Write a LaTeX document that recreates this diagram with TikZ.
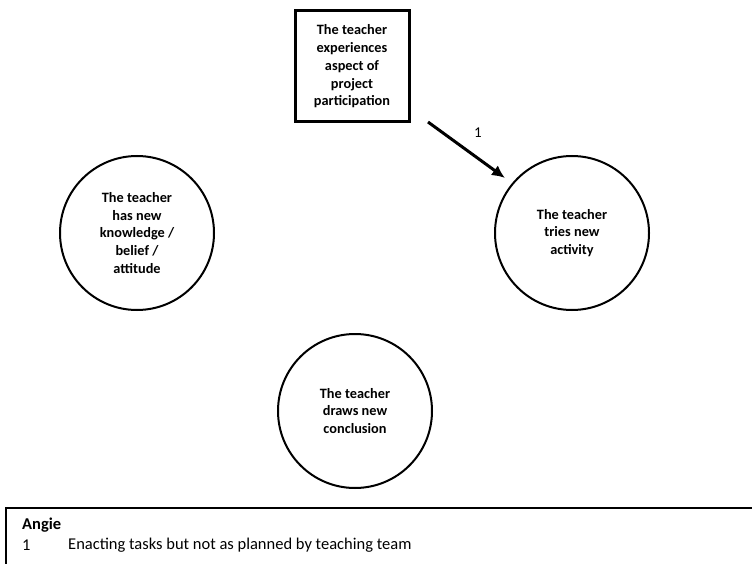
\documentclass[tikz,border=0pt]{standalone}
\usepackage{fontspec}
\setmainfont{Carlito}
\usetikzlibrary{arrows.meta}
\tikzset{
	stage/.style={circle,draw,line width=2pt,minimum size=154pt,inner sep=0pt,align=center,font=\bfseries\fontsize{14.3}{17.7}\selectfont},
	start/.style={rectangle,draw,line width=3pt,minimum width=114pt,minimum height=111pt,inner sep=0pt,align=center,font=\bfseries\fontsize{14.3}{17.7}\selectfont},
	legend/.style={anchor=west,inner sep=0pt,font=\fontsize{16.5}{20}\selectfont}
}
\begin{document}
\begin{tikzpicture}[x=1pt,y=-1pt]
	\useasboundingbox (0,0) rectangle (752,564);
	\clip (0,0) rectangle (752,564);
	\node[start] (project) at (352,66.5) {The teacher\\experiences\\aspect of\\project\\participation};
	\node[stage] (knowledge) at (137,233) {The teacher\\has new\\knowledge /\\belief /\\attitude};
	\node[stage] (activity) at (572,233) {The teacher\\tries new\\activity};
	\node[stage] (conclusion) at (355,411) {The teacher\\draws new\\conclusion};
	% arrow 1
	\coordinate (a1) at (428,122);
	\coordinate (a2) at (505,178);
	\draw[line width=3pt,-{Latex[length=13pt,width=12pt]}] (a1) -- (a2);
	\node[inner sep=0pt,font=\fontsize{15}{18}\selectfont] (l1) at (478,133) {1};
	% legend
	\draw[line width=1.5pt] (6,508) coordinate (L) rectangle (770,600);
	\node[legend,font=\bfseries\fontsize{16.5}{20}\selectfont] (who) at (22,525) {Angie};
	\node[legend] (n1) at (22,545) {1};
	\node[legend] (t1) at (68,545) {Enacting tasks but not as planned by teaching team};
\end{tikzpicture}
\end{document}
